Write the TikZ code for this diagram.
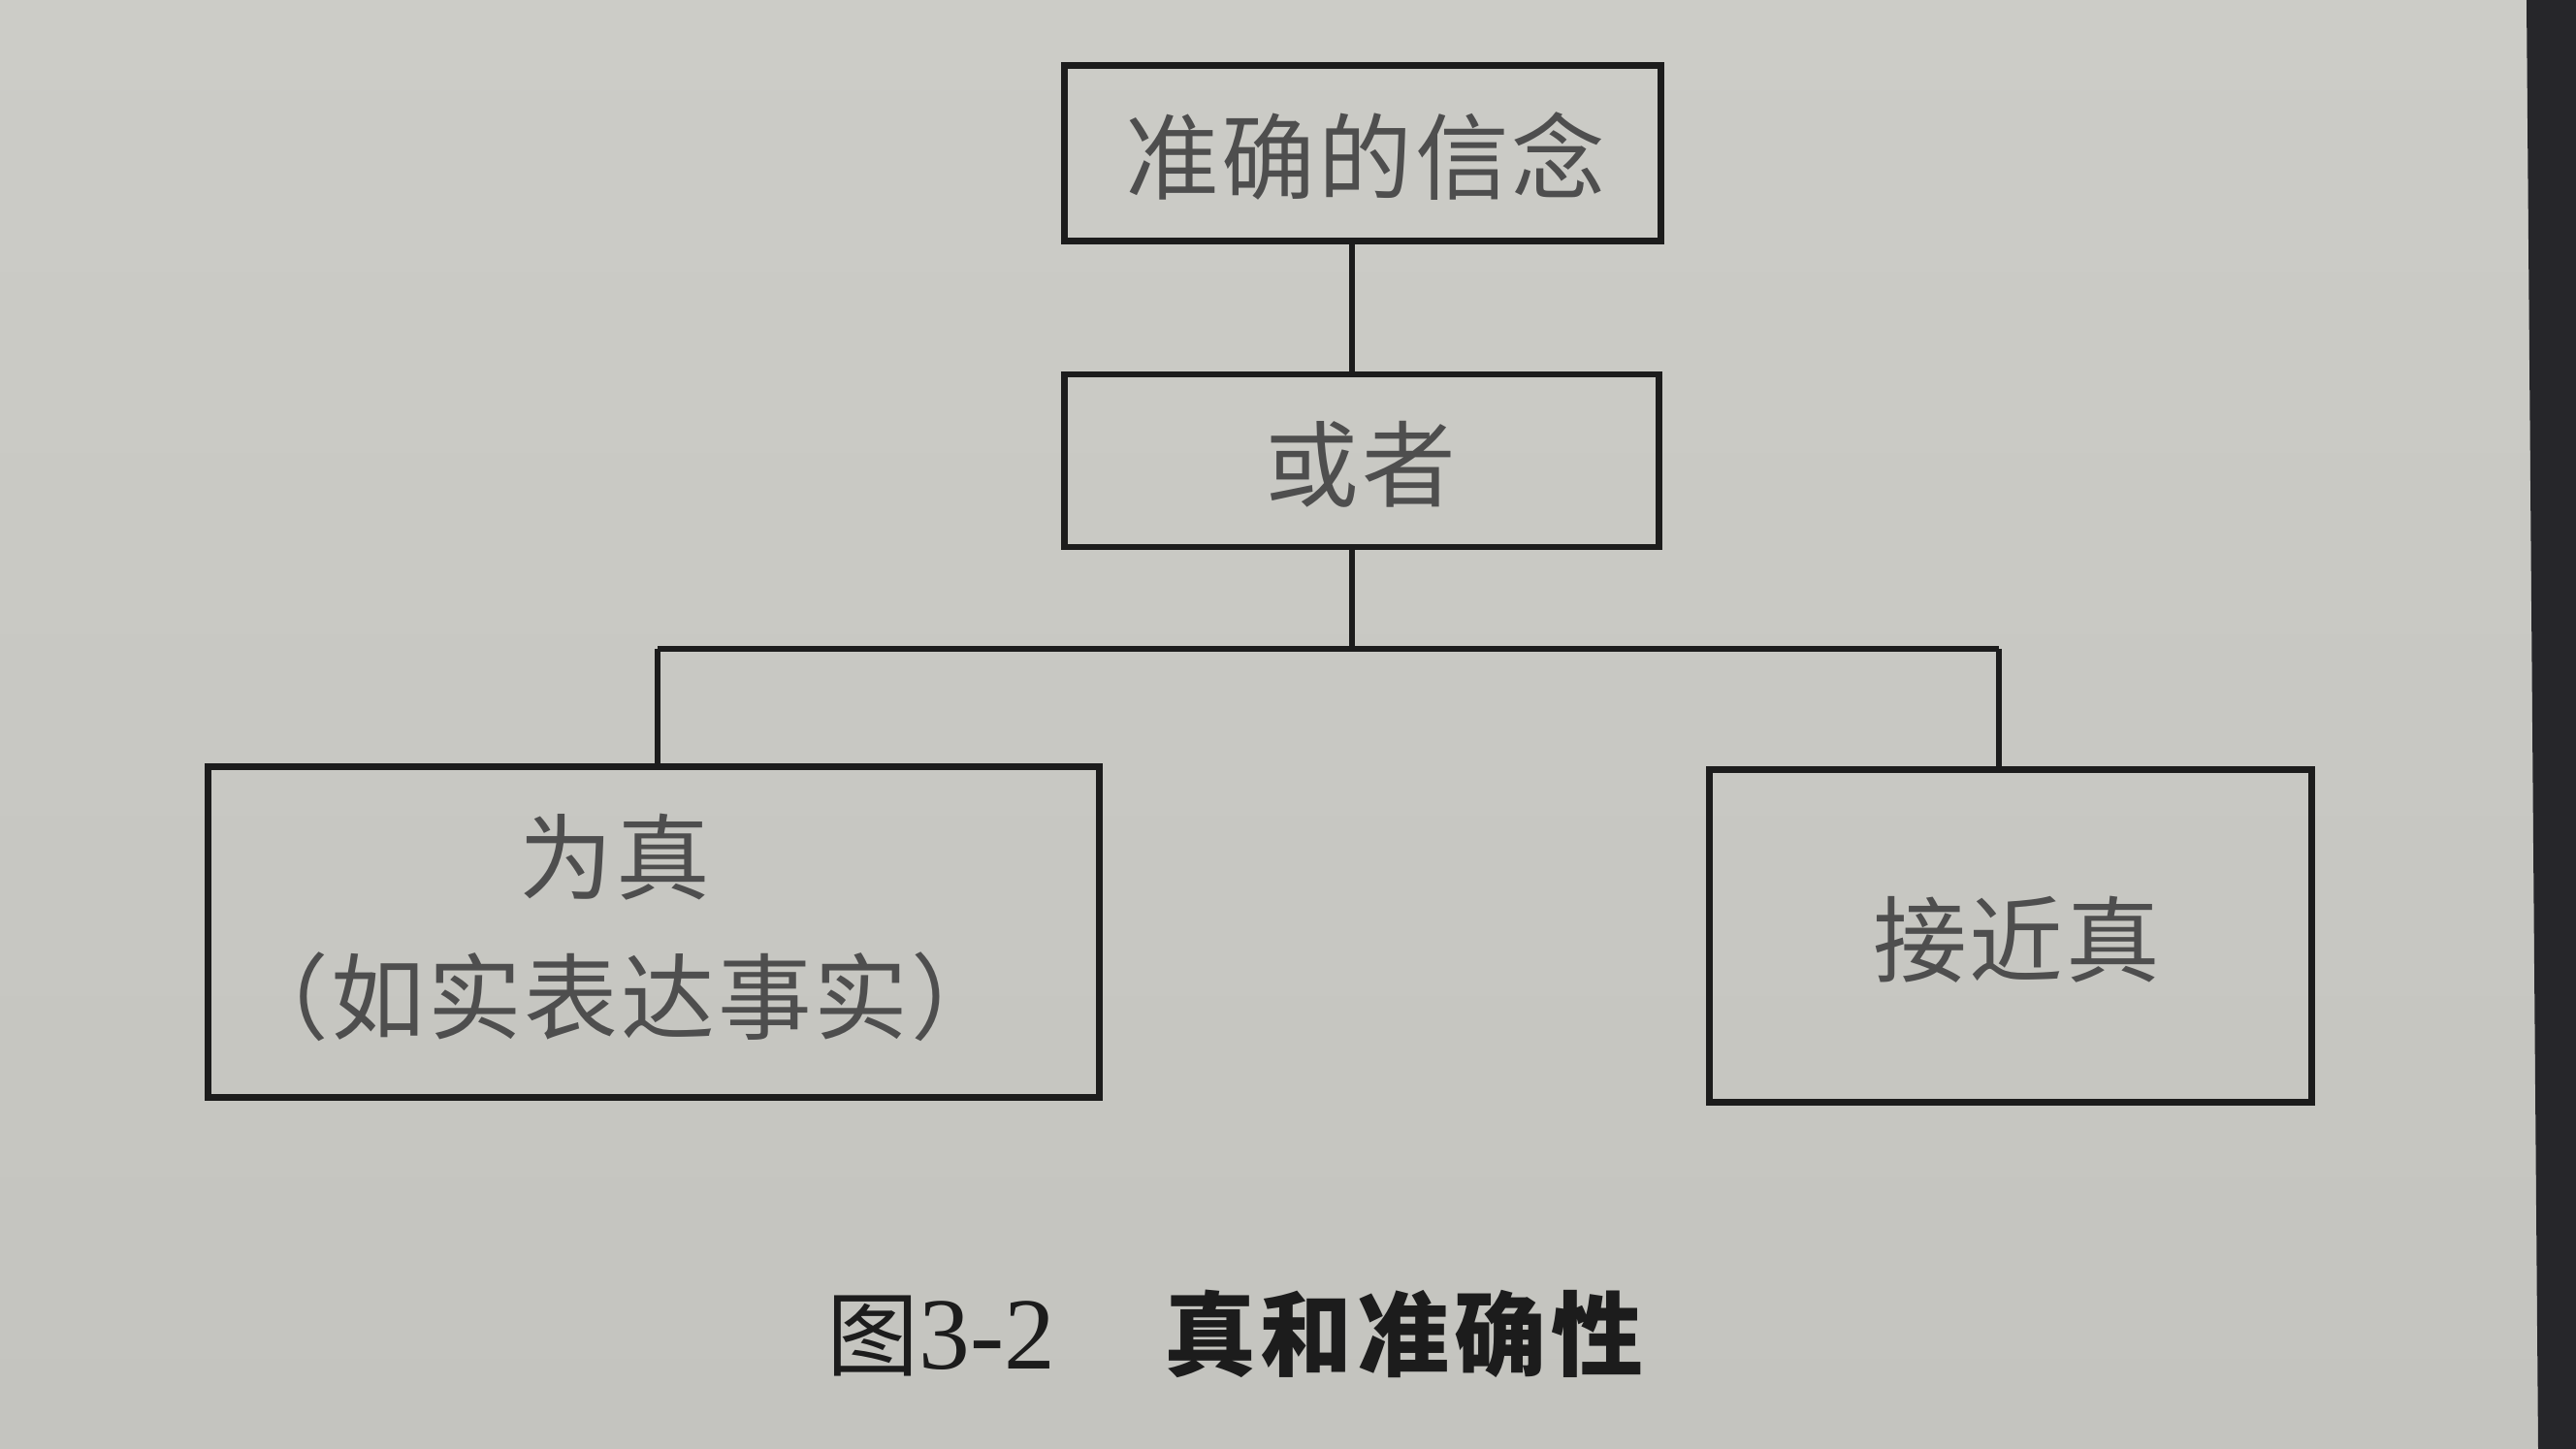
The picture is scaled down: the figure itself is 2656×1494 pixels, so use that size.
\documentclass[tikz,border=0pt]{standalone}
\usepackage{fontspec}
\newfontfamily\cjk[LetterSpace=3]{Noto Sans CJK SC}
\newfontfamily\cjkcap[LetterSpace=5]{Noto Sans CJK SC}
\newfontfamily\capnum{Liberation Serif}
\definecolor{paper}{RGB}{196,196,191}
\definecolor{paperlight}{RGB}{204,204,199}
\definecolor{edge}{RGB}{38,38,42}
\definecolor{ink}{RGB}{78,78,78}
\definecolor{line}{RGB}{28,28,28}
\begin{document}
\begin{tikzpicture}[x=0.01cm,y=-0.01cm,
  boxstyle/.style={draw=line,line width=1.9pt,inner sep=0pt,anchor=center},
  label/.style={font=\cjk\fontsize{27.5}{30}\selectfont,text=ink,inner sep=0pt,anchor=center},
  conn/.style={draw=line,line width=1.5pt}]
\shade[top color=paperlight,bottom color=paper] (0,0) rectangle (2656,1494);
\fill[edge] (2605,0) -- (2656,0) -- (2656,1494) -- (2617,1494) -- cycle;
\useasboundingbox (0,0) rectangle (2656,1494);
% boxes
\node[boxstyle,minimum width=6.15cm,minimum height=1.81cm] (top) at (1405,158) {};
\node[boxstyle,minimum width=6.13cm,minimum height=1.78cm] (mid) at (1404,475) {};
\node[boxstyle,minimum width=9.18cm,minimum height=3.41cm] (L) at (674,961) {};
\node[boxstyle,minimum width=6.20cm,minimum height=3.43cm] (R) at (2073,965) {};
% labels
\node[label] (ttop) at (1408,161) {准确的信念};
\node[label] (tmid) at (1403,479) {或者};
\node[label] (tL1) at (634,884) {为真};
\node[label] (tL2) at (639,1028) {（如实表达事实）};
\node[label] (tR) at (2079,969) {接近真};
% connectors
\coordinate (j) at (1394,669);
\coordinate (jl) at (678,669);
\coordinate (jr) at (2061,669);
\draw[conn] (top.south -| j) -- (mid.north -| j);
\draw[conn] (mid.south -| j) -- (j);
\draw[conn] (jl) -- (jr);
\draw[conn] (jl) -- (jl |- L.north);
\draw[conn] (jr) -- (jr |- R.north);
% caption
\node[inner sep=0pt,anchor=west,text=line] (cap) at (852,1375)
  {\cjk\fontsize{27}{30}\selectfont 图\capnum\fontsize{30}{30}\selectfont 3-2\hspace{1.12cm}\cjkcap\bfseries\fontsize{27}{30}\selectfont 真和准确性};
\end{tikzpicture}
\end{document}
